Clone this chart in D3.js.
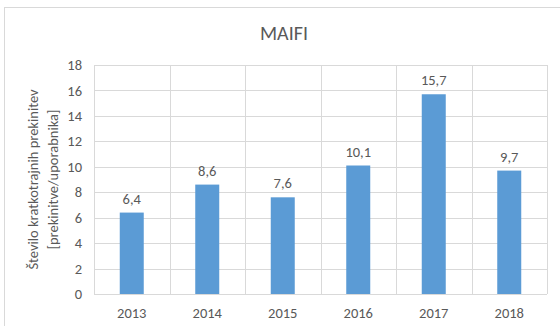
<!DOCTYPE html>
<html>
<head>
<meta charset="utf-8">
<script src="https://cdn.jsdelivr.net/npm/d3@7"></script>
<style>
  html, body { margin: 0; padding: 0; background: #fff; }
  svg { display: block; }
  text { font-family: Carlito, "Open Sans", "Liberation Sans", sans-serif; fill: #595959; }
</style>
</head>
<body>
<svg id="chart" width="560" height="326"></svg>
<script>
// Chart data
const years = ["2013", "2014", "2015", "2016", "2017", "2018"];
const maifi = [6.4, 8.6, 7.6, 10.1, 15.7, 9.7];
const yTicks = [0, 2, 4, 6, 8, 10, 12, 14, 16, 18];
const chartTitle = "MAIFI";
const axisTitleLines = ["Število kratkotrajnih prekinitev", "[prekinitve/uporabnika]"];

const svg = d3.select("#chart");
const W = 560, H = 326;
const plot = { left: 94, right: 547, top: 65, bottom: 294 };
const FONT = 'Carlito, "Open Sans", "Liberation Sans", sans-serif';
const LABEL_SIZE = 14.5;

// Chart frame
svg.append("rect")
  .attr("x", 4.5).attr("y", 7.5)
  .attr("width", W).attr("height", H)
  .attr("fill", "#fff")
  .attr("stroke", "#d9d9d9").attr("stroke-width", 1);

const x = d3.scaleBand().domain(years).range([plot.left, plot.right]).paddingInner(0).paddingOuter(0);
const y = d3.scaleLinear().domain([0, 18]).range([plot.bottom, plot.top]);

// Horizontal gridlines
svg.append("g").selectAll("line").data(yTicks).join("line")
  .attr("x1", plot.left).attr("x2", plot.right)
  .attr("y1", d => Math.round(y(d)) + 0.5).attr("y2", d => Math.round(y(d)) + 0.5)
  .attr("stroke", "#d9d9d9").attr("stroke-width", 1);

// Vertical gridlines at category boundaries
const bounds = years.map(d => x(d)).concat([plot.right]);
svg.append("g").selectAll("line").data(bounds).join("line")
  .attr("x1", d => Math.round(d) + 0.5).attr("x2", d => Math.round(d) + 0.5)
  .attr("y1", plot.top).attr("y2", plot.bottom)
  .attr("stroke", "#d9d9d9").attr("stroke-width", 1);

// Bars
const barW = 24;
svg.append("g").selectAll("rect").data(years).join("rect")
  .attr("x", (d) => x(d) + x.bandwidth() / 2 - barW / 2)
  .attr("y", (d, i) => y(maifi[i]))
  .attr("width", barW)
  .attr("height", (d, i) => y(0) - y(maifi[i]))
  .attr("fill", "#5b9bd5");

// Value labels
const fmt = v => d3.format(".1f")(v).replace(".", ",");
svg.append("g").selectAll("text").data(years).join("text")
  .attr("x", d => x(d) + x.bandwidth() / 2)
  .attr("y", (d, i) => y(maifi[i]) - 9)
  .attr("text-anchor", "middle")
  .attr("font-size", LABEL_SIZE)
  .text((d, i) => fmt(maifi[i]));

// Y axis tick labels
const yAxis = d3.axisLeft(y).tickValues(yTicks).tickSize(0).tickPadding(12);
const gy = svg.append("g").attr("transform", `translate(${plot.left},0)`).call(yAxis);
gy.select(".domain").remove();
gy.selectAll("text").attr("font-size", LABEL_SIZE).attr("fill", "#595959").style("font-family", FONT);

// X axis tick labels
const xAxis = d3.axisBottom(x).tickSize(0).tickPadding(13.5);
const gx = svg.append("g").attr("transform", `translate(0,${plot.bottom})`).call(xAxis);
gx.select(".domain").remove();
gx.selectAll("text").attr("font-size", LABEL_SIZE).attr("fill", "#595959").style("font-family", FONT);

// Title
svg.append("text")
  .attr("x", 284).attr("y", 40)
  .attr("text-anchor", "middle")
  .attr("font-size", 20)
  .text(chartTitle);

// Y axis title
const cy = (plot.top + plot.bottom) / 2;
axisTitleLines.forEach((line, i) => {
  svg.append("text")
    .attr("transform", `translate(${38 + i * 20},${cy}) rotate(-90)`)
    .attr("text-anchor", "middle")
    .attr("font-size", LABEL_SIZE)
    .text(line);
});
</script>
</body>
</html>
